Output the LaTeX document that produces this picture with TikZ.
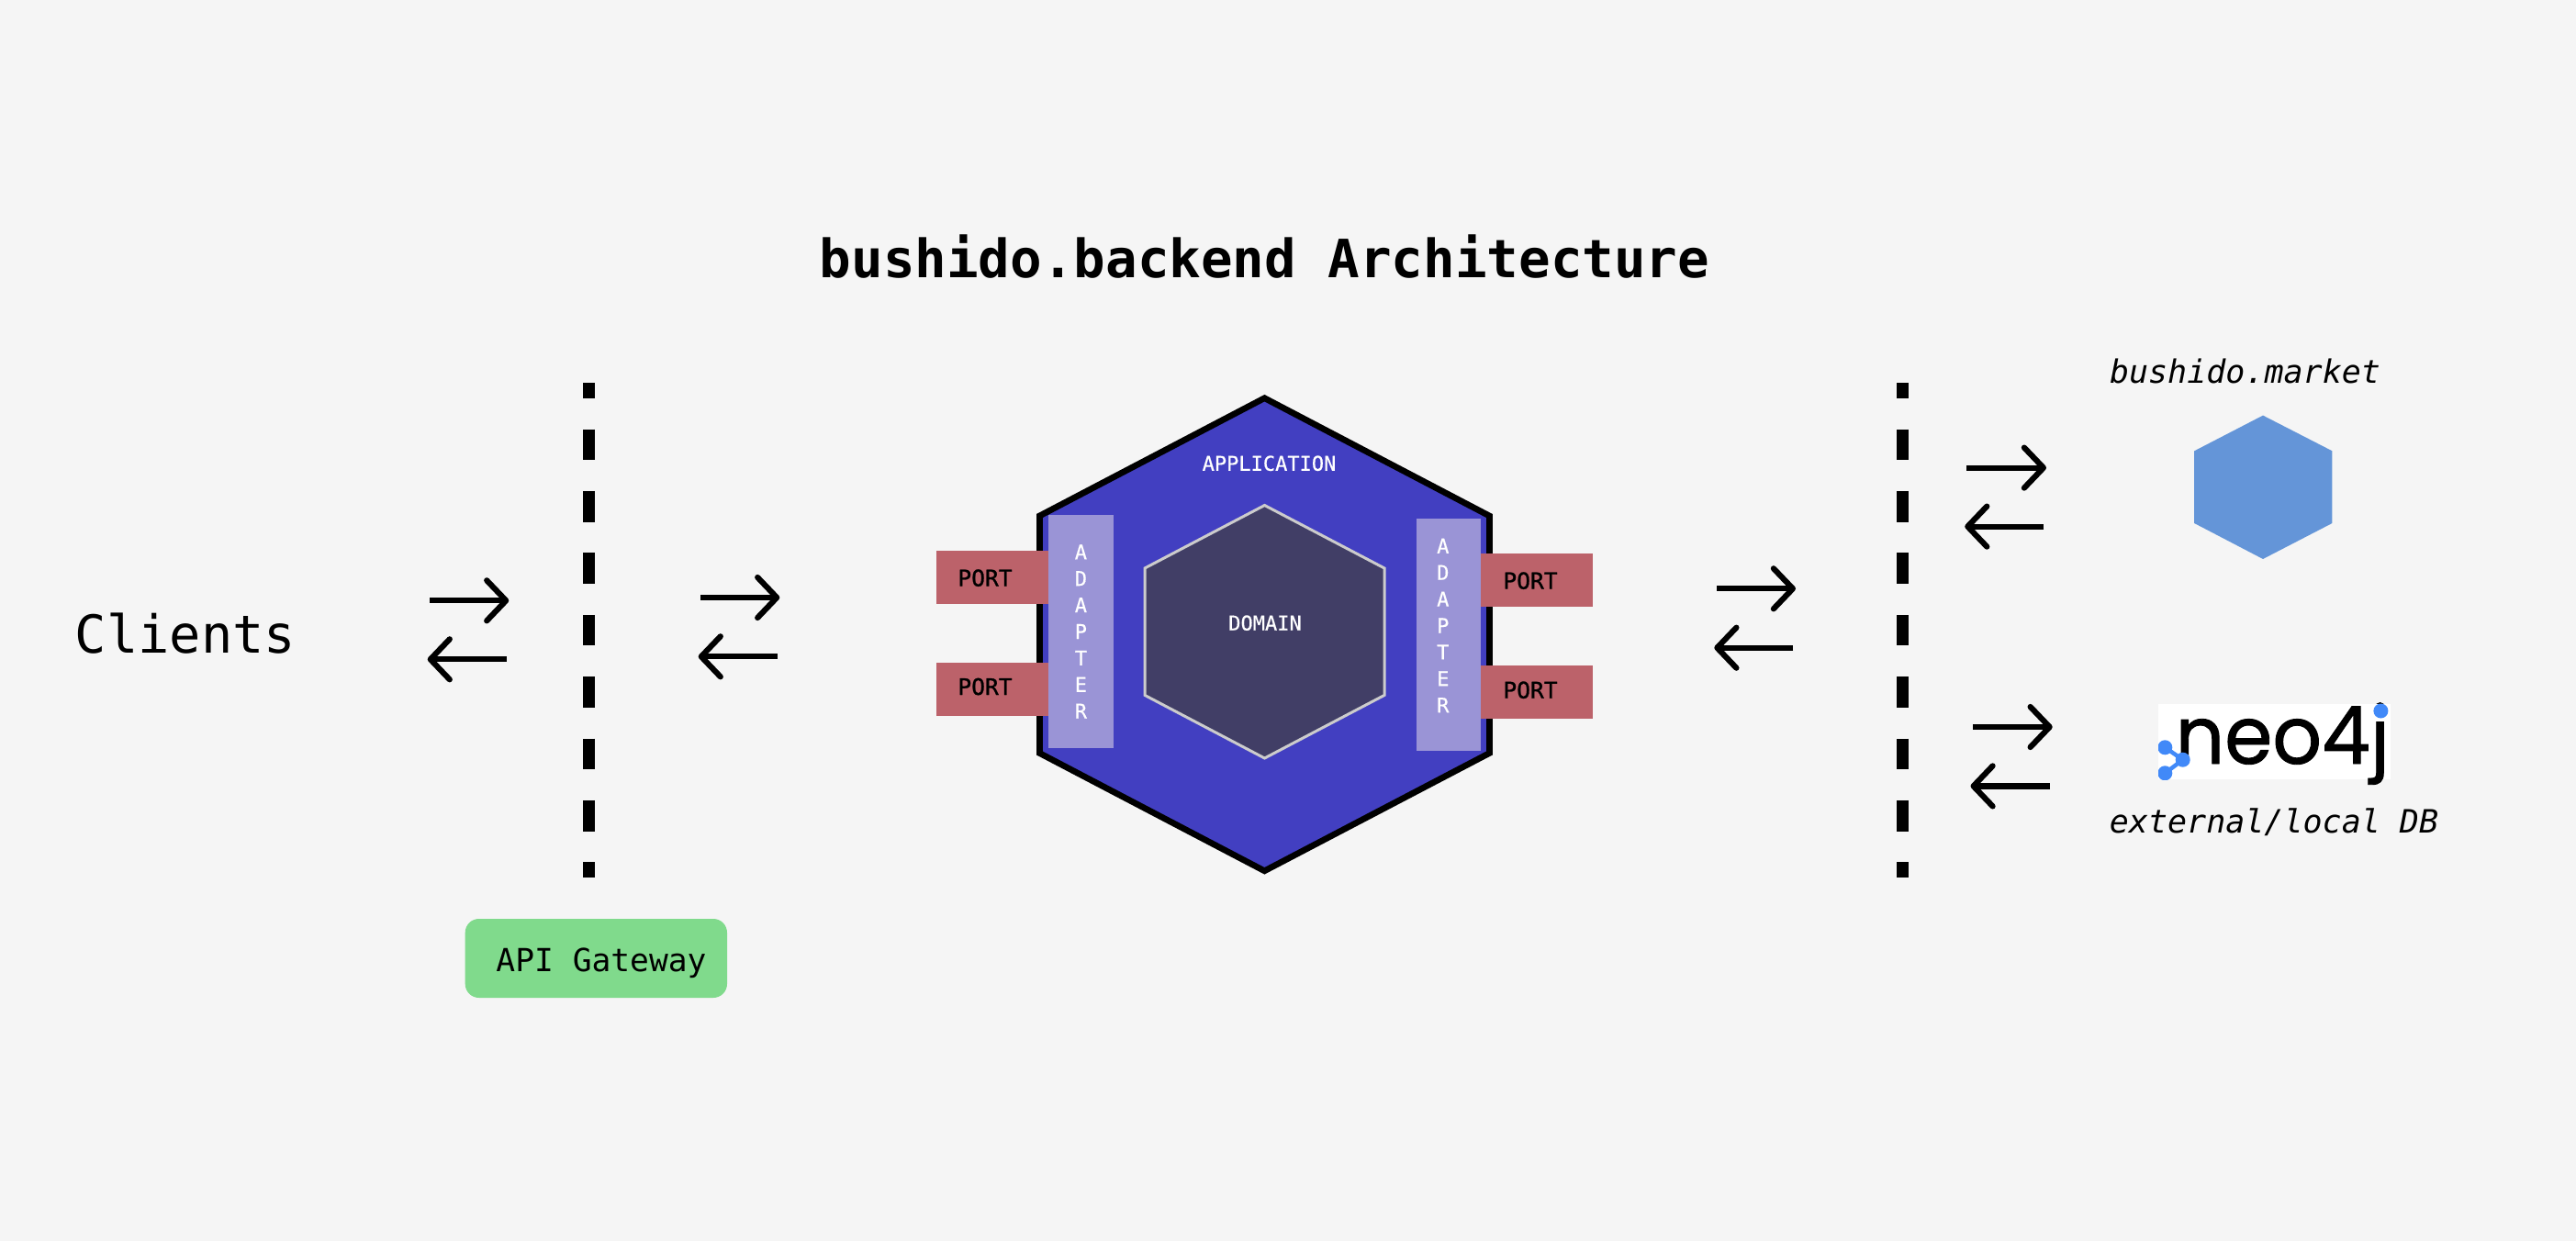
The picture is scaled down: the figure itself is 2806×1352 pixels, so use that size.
\documentclass[tikz,border=0pt]{standalone}
\usepackage{fontspec}
\usetikzlibrary{arrows.meta}
\setmonofont{DejaVu Sans Mono}
\newfontfamily\medfont[FakeBold=0.5]{DejaVu Sans Mono}
\newfontfamily\semifont[FakeBold=1.0]{DejaVu Sans Mono}
\newfontfamily\logofont[FakeBold=1.0]{Poppins}
\definecolor{bgc}{HTML}{F5F5F5}
\definecolor{appblue}{HTML}{423FC1}
\definecolor{domainc}{HTML}{413E66}
\definecolor{domline}{HTML}{CCCCCC}
\definecolor{adapterc}{HTML}{9A94D6}
\definecolor{portc}{HTML}{BC626A}
\definecolor{gatec}{HTML}{80DA8C}
\definecolor{marketc}{HTML}{6495D8}
\definecolor{neoblue}{HTML}{4189F8}
\tikzset{
  flow/.style={line width=6.2bp,-{Straight Barb[length=21bp,width=44bp,round]}},
  divider/.style={line width=13bp,dash pattern=on 33.7bp off 33.7bp,dash phase=16.85bp},
  hexapp/.style={fill=appblue,draw=black,line width=6.7bp,miter limit=10},
  hexdom/.style={fill=domainc,draw=domline,line width=3bp},
  txt/.style={inner sep=0pt,outer sep=0pt,anchor=base},
  adapterbox/.style={fill=adapterc},
  portbox/.style={fill=portc},
  title/.style={txt,font=\ttfamily\bfseries\fontsize{57.5bp}{60bp}\selectfont},
  portlabel/.style={txt,font=\semifont\fontsize{24.6bp}{26bp}\selectfont},
  inlabel/.style={txt,text=white,font=\medfont\fontsize{22bp}{24bp}\selectfont},
  adapterlabel/.style={inner sep=0pt,text=white,align=center,text width=20bp,font=\medfont\fontsize{22bp}{28.9bp}\selectfont},
  oblabel/.style={txt,font=\ttfamily\itshape\fontsize{35bp}{37bp}\selectfont},
}
\begin{document}
\begin{tikzpicture}[x=1bp,y=-1bp]
\useasboundingbox (0,0) rectangle (2806,1352);
\fill[bgc] (0,0) rectangle (2806,1352);

% title
\node[title] (ttl) at (1377.5,302.5) {bushido.backend Architecture};

% clients
\node[txt,font=\ttfamily\fontsize{57bp}{60bp}\selectfont] (clients) at (202,711.7) {Clients};

% dividers
\coordinate (d1a) at (641.3,417);
\coordinate (d1b) at (641.3,956);
\coordinate (d2a) at (2072.2,417);
\coordinate (d2b) at (2072.2,956);
\draw[divider] (d1a) -- (d1b);
\draw[divider] (d2a) -- (d2b);

% arrow end points
\coordinate (a1s) at (468.3,654.3); \coordinate (a1e) at (554.3,654.3);
\coordinate (a2s) at (551.7,718.3); \coordinate (a2e) at (465.7,718.3);
\coordinate (a3s) at (763.3,651);   \coordinate (a3e) at (849.3,651);
\coordinate (a4s) at (846.7,715.3); \coordinate (a4e) at (760.7,715.3);
\coordinate (a5s) at (1870,641.3);  \coordinate (a5e) at (1956,641.3);
\coordinate (a6s) at (1953.3,705.7);\coordinate (a6e) at (1867.3,705.7);
\coordinate (a7s) at (2142.3,509.6);\coordinate (a7e) at (2229,509.6);
\coordinate (a8s) at (2226.4,573.6);\coordinate (a8e) at (2140.2,573.6);
\coordinate (a9s) at (2149,792);    \coordinate (a9e) at (2235.7,792);
\coordinate (a10s) at (2233,856.4); \coordinate (a10e) at (2146.5,856.4);
\foreach \n in {1,...,10} \draw[flow] (a\n s) -- (a\n e);

% gateway
\fill[gatec,rounded corners=15bp] (506.7,1001) rectangle (792,1087);
\node[txt,font=\ttfamily\fontsize{34.6bp}{36bp}\selectfont] (gw) at (655,1058.7) {API Gateway};

% application hexagon
\path[hexapp] (1377.4,433.7) -- (1622.4,562) -- (1622.4,820.5) -- (1377.4,948.8) -- (1132.4,820.5) -- (1132.4,562) -- cycle;
\node[inlabel] (app) at (1382.5,512.8) {APPLICATION};

% domain hexagon
\path[hexdom] (1377.5,550.5) -- (1508,619) -- (1508,757.4) -- (1377.5,826) -- (1247,757.4) -- (1247,619) -- cycle;
\node[inlabel] (dom) at (1378,686.7) {DOMAIN};

% ports
\fill[portc] (1019.8,600) rectangle (1143,657.5);
\fill[portc] (1019.8,721.9) rectangle (1143,779.6);
\fill[portc] (1612,603) rectangle (1735,660.8);
\fill[portc] (1612,725.2) rectangle (1735,782.5);
\node[portlabel] (p1) at (1073,638.6) {PORT};
\node[portlabel] (p2) at (1073,757) {PORT};
\node[portlabel] (p3) at (1667,641.6) {PORT};
\node[portlabel] (p4) at (1667,760.7) {PORT};

% adapters
\fill[adapterbox] (1142.2,561.3) rectangle (1212.7,814.7);
\fill[adapterbox] (1542.8,564.6) rectangle (1613,817.7);
\node[adapterlabel] (ad1) at (1177.4,688) {A\\D\\A\\P\\T\\E\\R};
\node[adapterlabel] (ad2) at (1571.8,681.5) {A\\D\\A\\P\\T\\E\\R};

% market
\node[oblabel] (mk) at (2445.5,417.5) {bushido.market};
\fill[marketc] (2465,452.6) -- (2540.4,491.3) -- (2540.4,570) -- (2465,609) -- (2390.2,570) -- (2390.2,491.3) -- cycle;

% neo4j logo
\fill[white] (2351,767) rectangle (2604.3,849.3);
\node[inner sep=0pt,outer sep=0pt,anchor=base west,font=\logofont\fontsize{84bp}{88bp}\selectfont] (neo) at (2369.5,832) {\scalebox{1}[1.04]{neo4j}};
\fill[white] (2584,767) rectangle (2604.3,786);
\fill[neoblue] (2593.4,774.5) circle (8bp);
\begin{scope}
\clip (2351,767) rectangle (2604.3,849.3);
\draw[neoblue,line width=4.5bp] (2358.3,814.3) -- (2377.7,827.7) -- (2358.3,842.3);
\fill[neoblue] (2358.3,814.3) circle (8bp);
\fill[neoblue] (2377.7,827.7) circle (8bp);
\fill[neoblue] (2358.3,842.3) circle (8bp);
\end{scope}
\node[oblabel] (db) at (2477,907.3) {external/local DB};
\end{tikzpicture}
\end{document}
